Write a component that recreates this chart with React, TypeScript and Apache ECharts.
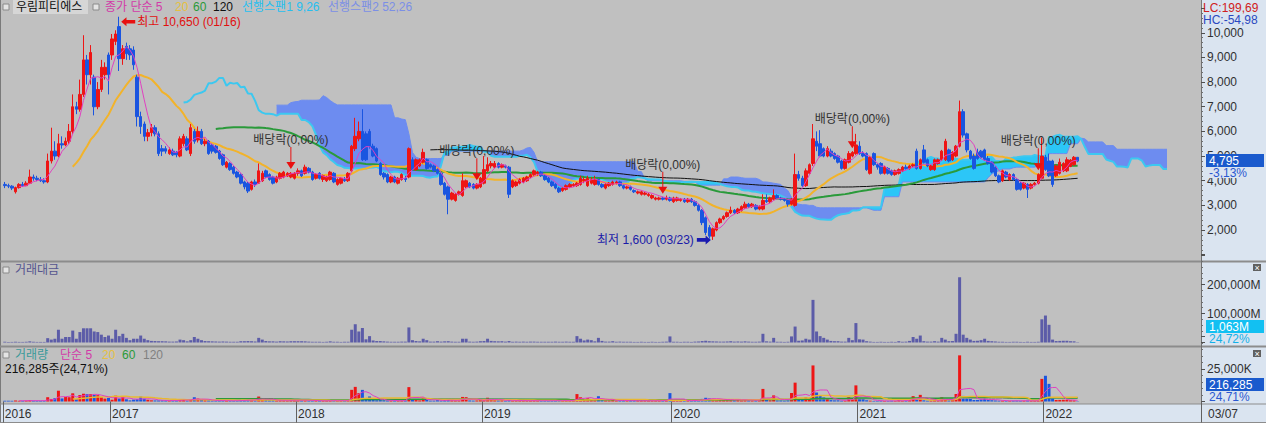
import React, { useEffect, useRef } from "react";
import * as echarts from "echarts";

const FONT = "'Liberation Sans', 'Noto Sans CJK KR', sans-serif";

// Weekly candles; the first week starts on Monday 2016-06-06.
const SLOT_COUNT = 335; // data weeks + leading spans + blank area
const LEAD_SHIFT = 25;

// [open, close, low, high] per week
const ohlc2016: number[][] = [
  [3850,3800,3700,3950],[3800,3780,3700,3880],[3780,3700,3620,3820],[3550,3720,3480,3760],
  [3720,3850,3680,3900],[3850,3800,3750,3950],[3800,3900,3780,3980],[3900,4150,3880,4450],
  [4150,4100,4000,4250],[4100,4050,3980,4200],[4050,4000,3950,4150],[4000,3950,3880,4100],
  [3950,4800,3900,5100],[4800,5200,4700,6150],[5200,5000,4850,5600],[5000,5500,4950,5900],
  [5500,5450,5300,5800],[5450,5600,5400,5750],[5600,6000,5500,6300],[6000,7000,5900,7500],
  [7000,6900,6700,7200],[6900,7500,6800,8100],[7500,8900,7400,9900],[8900,8300,7900,9100],
  [8300,9200,7900,9500],[8200,7000,6650,8300],[7000,7700,6900,8000],[7700,8600,7600,8900],
  [8300,8600,8100,8800],[9100,8300,7500,9200],
];
const ohlc2017: number[][] = [
  [9100,9750,8900,9950],[9650,9950,9500,10100],[10250,8950,8450,10650],[8950,9350,8700,9500],
  [9450,9150,8900,9600],[9350,9100,8900,9500],[9300,8700,8500,9450],[8200,6600,6200,8300],
  [6600,6200,5900,6800],[6300,5800,5600,6400],[5800,5950,5600,6100],[5950,6150,5800,6300],
  [6150,5900,5800,6250],[5900,5100,5000,6000],[5300,5200,5000,5450],[5300,5200,5100,5400],
  [5100,5250,5050,5350],[5200,5050,5000,5300],[5150,5050,4950,5200],[5000,5700,4950,5800],
  [5500,5800,5400,5900],[5700,5250,5200,5800],[5100,6150,5000,6300],[6000,5600,5500,6100],
  [5650,6000,5550,6200],[6000,5500,5450,6100],[5500,5600,5400,5700],[5600,5100,5050,5650],
  [5450,5200,5100,5500],[5400,5150,5100,5450],[5200,4900,4850,5250],[5050,4650,4600,5100],
  [4550,4750,4500,4800],[4700,4450,4400,4750],[4550,4300,4250,4600],[4350,4150,4100,4400],
  [4250,3900,3850,4300],[3950,3750,3650,4000],[3900,3580,3500,3950],[3650,3950,3600,4000],
  [3950,3850,3750,4050],[3900,4400,3880,4700],[4000,4300,3950,4400],[4400,4150,4100,4450],
  [4250,4050,4000,4300],[4150,3900,3850,4200],[3950,4150,3900,4200],[4100,4300,4050,4350],
  [4150,4350,4100,4400],[4200,4300,4150,4350],[4150,4300,4100,4350],[4100,4300,4050,4350],
];
const ohlc2018: number[][] = [
  [4300,4400,4200,4500],[4400,4200,4150,4450],[4300,4550,4250,4650],[4500,4350,4300,4550],
  [4350,4050,4000,4400],[4100,4250,4050,4300],[4300,4100,4050,4350],[4050,4200,3950,4250],
  [4000,4150,3950,4200],[4050,4350,4000,4400],[4300,3950,3900,4350],[3850,4050,3800,4100],
  [3900,4100,3850,4150],[4050,4000,3950,4150],[4000,4300,3950,4350],[4400,5400,4350,5450],
  [5300,5800,5200,6550],[5700,6000,5600,6400],[6000,4850,4800,6900],[5900,4850,4800,6000],
  [6000,5400,5300,6100],[5400,5000,4950,5500],[5300,4800,4750,5350],[4700,4250,4200,4750],
  [4300,4150,4050,4350],[4250,3950,3900,4300],[3950,4150,3900,4200],[4150,3950,3900,4200],
  [3900,4100,3850,4150],[4050,4250,4000,4300],[4100,4050,3950,4200],[4150,5300,4100,5350],
  [4850,4450,4400,4950],[4450,4850,4400,4900],[4600,4850,4550,4900],[4750,5150,4700,5300],
  [4850,4500,4450,4900],[4650,4550,4500,4700],[4600,4400,4350,4650],[4450,4300,4250,4500],
  [4300,3850,3800,4350],[3900,3450,3400,3950],[3750,3250,2640,3800],[3250,3500,3200,3550],
  [3200,3450,3150,3500],[3450,3550,3400,3600],[3400,4000,3350,4300],[3750,4000,3700,4050],
  [3900,3750,3700,3950],[3850,3700,3650,3900],[3700,3850,3650,3900],[3750,4100,3700,4150],
  [3900,4450,3850,5000],
];
const ohlc2019: number[][] = [
  [4400,4650,4350,4950],[4600,4700,4500,4800],[4550,4700,4500,4800],[4700,4550,4500,4750],
  [4550,4650,4500,4700],[4600,4550,4500,4650],[4550,3450,3300,4600],[3750,4000,3700,4050],
  [3800,3950,3750,4000],[3900,4050,3850,4100],[3950,4100,3900,4150],[4000,4150,3950,4200],
  [4150,4250,4100,4300],[4250,4400,4200,4450],[4300,4350,4200,4400],[4350,4200,4150,4400],
  [4200,4050,4000,4250],[4100,3950,3900,4150],[3950,3800,3750,4000],[3850,3700,3650,3900],
  [3700,3550,3500,3750],[3600,3700,3550,3750],[3650,3800,3600,3850],[3750,3850,3700,3900],
  [3800,3850,3750,3900],[3800,3900,3750,3950],[3850,4100,3800,4200],[4000,4050,3900,4150],
  [3800,4100,3750,4200],[3900,4050,3850,4150],[3850,4050,3800,4200],[4050,3850,3800,4100],
  [3850,3750,3700,3900],[3700,3850,3650,3900],[3800,3900,3750,3950],[3850,3950,3800,4000],
  [3900,3950,3850,4000],[3950,3800,3750,4000],[3800,3700,3650,3850],[3700,3750,3650,3800],
  [3750,3650,3600,3800],[3600,3550,3500,3650],[3500,3550,3450,3600],[3450,3550,3400,3600],
  [3450,3500,3400,3550],[3400,3450,3350,3500],[3300,3400,3250,3450],[3250,3300,3200,3350],
  [3250,3300,3200,3350],[3300,3250,3200,3350],[3250,3300,3200,3400],[3300,3200,3150,3350],
];
const ohlc2020: number[][] = [
  [3150,3300,3100,3350],[3200,3300,3150,3350],[3200,3250,3150,3300],[3250,3150,3100,3300],
  [3150,3250,3100,3300],[3250,3150,3100,3300],[3150,3000,2950,3200],[3000,2800,2750,3050],
  [2800,2300,2200,2850],[2500,1900,1800,2550],[2100,1750,1650,2200],[1750,2050,1600,2100],
  [2000,2300,1950,2350],[2300,2450,2250,2500],[2450,2550,2400,2600],[2550,2700,2500,2750],
  [2700,2800,2650,2950],[2800,2700,2650,2850],[2700,2850,2650,2900],[2800,2950,2750,3000],
  [2900,3050,2850,3150],[3050,2950,2900,3100],[2950,3050,2900,3100],[3000,2850,2800,3050],
  [2850,2950,2800,3000],[2850,3200,2800,3450],[3200,3150,3100,3450],[3150,3300,3100,3350],
  [3250,3400,3200,3650],[3400,3300,3250,3450],[3300,3250,3200,3350],[3250,3200,3150,3300],
  [3200,3050,2950,3250],[3050,3250,3000,3300],[3000,4250,2950,5100],[4250,4100,4000,4400],
  [4100,3800,3750,4200],[3800,4400,3750,4500],[4300,4650,4250,4700],[4700,5700,4600,6300],
  [5600,5400,5200,6000],[5500,5000,4950,6050],[5300,5000,4950,5350],[5000,5300,4950,5400],
  [5200,5000,4950,5300],[5100,4900,4850,5150],[5000,4750,4700,5050],[4800,4500,4450,4850],
  [4500,4850,4450,4900],[4750,5100,4700,5200],[5000,5150,4950,5200],[5100,5450,5050,5900],
];
const ohlc2021: number[][] = [
  [5400,5100,5050,5600],[5100,5000,4950,5200],[5100,4450,4400,5150],[4300,4950,4250,5000],
  [5100,4650,4600,5150],[4650,4550,4450,4700],[4700,4300,4250,4750],[4300,4550,4250,4600],
  [4500,4300,4250,4550],[4400,4250,4200,4450],[4250,4400,4200,4450],[4300,4450,4250,4500],
  [4400,4550,4350,4600],[4550,4500,4450,4650],[4500,4600,4450,4650],[4600,4650,4550,4700],
  [5200,4500,4450,5300],[4500,4850,4450,4900],[5250,4750,4700,5450],[4850,4600,4550,4900],
  [4450,4600,4400,4650],[4450,4850,4400,4900],[4700,4850,4650,4900],[4850,5200,4800,5250],
  [4850,5600,4800,5700],[5250,4800,4750,5300],[4850,5150,4800,5200],[5000,5400,4950,5450],
  [5400,6800,5350,7250],[6800,5850,5750,6900],[5900,5250,5150,5950],[5200,4900,4850,5250],
  [5000,4500,4450,5100],[5150,4900,4850,5300],[5200,4950,4900,5250],[5250,4850,4800,5300],
  [4900,4700,4650,5000],[4750,4350,4300,4800],[4550,4200,4150,4600],[4200,3950,3900,4250],
  [4000,4400,3950,4450],[4350,4150,4100,4400],[4050,4250,4000,4300],[4250,4050,4000,4300],
  [4050,3650,3600,4100],[3900,3650,3600,3950],[3700,3900,3650,3950],[3850,3650,3300,3900],
  [3700,3850,3650,3900],[3850,3900,3800,3950],[3900,4250,3850,4300],[4100,5000,4050,5750],
];
const ohlc2022: number[][] = [
  [4950,4450,4400,5050],[4800,4200,4150,5100],[4800,3850,3750,4850],[4200,4600,4150,4650],
  [4300,4750,4250,4900],[4400,4700,4350,4750],[4400,4850,4350,4950],[4580,4840,4550,4880],
  [4650,4950,4600,5000],[4950,4795,4750,4950],
];

// 거래대금 (백만원)
const amount2016 = [2500,2000,2000,3000,2000,2000,2500,4000,2500,2000,2000,2000,15000,10000,13000,44000,13000,19000,19000,41000,13000,36000,49000,49000,49000,38000,36000,27000,19000,24000];
const amount2017 = [13000,44000,22000,30000,16000,8000,13000,13000,24000,13000,8000,5500,5000,4500,4500,4000,3000,3000,3500,10000,8000,4000,8000,19000,13000,8000,5000,4500,4000,3500,3000,3500,3000,2500,2500,2500,4500,4500,5000,4500,3500,16000,10000,5000,4000,4000,3000,4500,4000,3500,4500,4500];
const amount2018 = [4500,4500,4000,3000,2500,2500,2500,2000,2500,4000,2500,2500,2000,2500,2500,44000,63000,38000,50000,11000,22000,7000,5000,5000,4000,3000,2500,2500,2500,3000,3000,52000,8000,5000,4000,13000,8000,3000,3000,4500,3000,4000,4500,3000,2500,2500,13000,13000,3000,2500,3000,4500,5000];
const amount2019 = [13000,5500,4500,4000,4500,3000,5000,2500,3000,2500,3000,2500,3000,3000,2500,2500,2500,2500,2500,3000,2500,2500,3000,2500,2500,22000,13000,7000,10000,8000,4000,16000,5500,3000,3000,4500,2500,3000,2500,2500,2500,2000,2000,2500,2000,2000,2500,2000,2000,2500,3000,21000];
const amount2020 = [2500,2500,2000,2500,2500,2000,3000,3500,5000,6000,4500,4000,3500,3000,3000,3500,4500,3000,3500,3000,4000,3000,2500,2500,3000,30000,4000,3000,16000,2500,2500,2000,2500,21000,55000,6000,7000,13000,10000,147000,38000,22000,16000,10000,5500,4500,4500,3000,3000,16000,8000,67000];
const amount2021 = [11000,10000,4500,3000,2000,2000,2500,2000,2000,2500,2000,4500,2500,3000,5500,19000,13000,24000,4500,3000,3000,4500,3000,16000,10000,4500,5000,30000,225000,27000,16000,10000,5500,6000,8000,13000,5500,4500,3500,2500,2500,2000,2000,2500,2500,2000,2000,2500,2000,2000,2500,80000];
const amount2022 = [93000,61000,10000,5000,5500,6000,6000,4500,4000,1063];

// 거래량 (천주)
const volume2016 = [660,530,540,810,520,530,640,980,610,490,500,510,3300,1960,2550,8300,2360,3450,3280,6300,1880,5000,5980,5700,5630,5070,4860,3290,2240,2790];
const volume2017 = [1380,4490,2290,3300,1720,870,1440,1760,3750,2170,1360,920,830,820,870,770,580,590,690,1850,1400,730,1430,3280,2240,1400,890,850,750,660,600,730,640,540,560,600,1100,1180,1350,1180,900,3810,2380,1160,980,1000,750,1070,930,820,1070,1070];
const volume2018 = [1030,1050,910,680,600,600,600,490,600,950,610,630,500,630,610,8980,11250,6440,8930,2040,3860,1350,1000,1110,950,730,630,630,630,730,730,11060,1740,1090,850,2650,1700,650,650,1020,730,1080,1290,880,760,710,3510,3330,790,660,790,1150,1190];
const volume2019 = [2890,1180,980,870,980,650,1250,640,770,630,750,610,710,700,580,580,610,630,640,790,690,680,810,660,660,5710,3250,1750,2500,2000,1000,4050,1450,790,780,1150,640,770,670,680,680,560,570,710,580,590,750,610,610,760,910,6460];
const volume2020 = [780,780,620,780,780,620,980,1210,2000,2860,2370,2110,1630,1250,1200,1350,1640,1090,1250,1030,1330,1000,830,860,1030,9680,1270,920,4710,750,770,630,810,6560,14500,1430,1790,3170,2220,27740,6910,4230,3140,1940,1080,900,920,650,640,3270,1570,12410];
const volume2021 = [2120,1980,960,650,420,430,560,450,450,580,470,1020,560,670,1210,4130,2710,5110,900,640,670,970,630,3200,1920,900,1000,5770,35500,4290,2860,2000,1160,1200,1580,2570,1150,990,800,610,600,470,480,600,650,530,530,670,530,510,610,17390];
const volume2022 = [19790,13560,2330,1140,1220,1320,1300,960,830,216.285];

const exDividendWeeks = ["2017/12/18", "2018/12/17", "2019/12/16", "2020/12/21", "2021/12/20"];
const exDividendText = "배당락(0,00%)";

const pad = (n: number) => (n < 10 ? "0" + n : "" + n);
const fmt = (n: number) => String(Math.round(n)).replace(/\B(?=(\d{3})+(?!\d))/g, ",");

function buildWeeks() {
  const base = Date.UTC(2016, 5, 6);
  const day = 86400000;
  const dates: string[] = [];
  const years: number[] = [];
  for (let i = 0; i < SLOT_COUNT; i++) {
    const d = new Date(base + i * 7 * day);
    dates.push(`${d.getUTCFullYear()}/${pad(d.getUTCMonth() + 1)}/${pad(d.getUTCDate())}`);
    years.push(new Date(base + (i * 7 + 1) * day).getUTCFullYear());
  }
  return { dates, years };
}

function movingAverage(values: number[], n: number) {
  const out: (number | null)[] = [];
  let sum = 0;
  for (let i = 0; i < values.length; i++) {
    sum += values[i];
    if (i >= n) sum -= values[i - n];
    out.push(i >= n - 1 ? Math.round((sum / n) * 100) / 100 : null);
  }
  return out;
}

function buildOption() {
  const { dates, years } = buildWeeks();
  const ohlc = [...ohlc2016, ...ohlc2017, ...ohlc2018, ...ohlc2019, ...ohlc2020, ...ohlc2021, ...ohlc2022];
  const amounts = [...amount2016, ...amount2017, ...amount2018, ...amount2019, ...amount2020, ...amount2021, ...amount2022];
  const volumes = [...volume2016, ...volume2017, ...volume2018, ...volume2019, ...volume2020, ...volume2021, ...volume2022];
  const closes = ohlc.map((r) => r[1]);
  const lows = ohlc.map((r) => r[2]);
  const highs = ohlc.map((r) => r[3]);
  const n = ohlc.length;

  const mid = (end: number, len: number) => {
    let hi = -Infinity, lo = Infinity;
    for (let k = end - len + 1; k <= end; k++) {
      if (highs[k] > hi) hi = highs[k];
      if (lows[k] < lo) lo = lows[k];
    }
    return (hi + lo) / 2;
  };
  const span1: (number | null)[] = new Array(SLOT_COUNT).fill(null);
  const span2: (number | null)[] = new Array(SLOT_COUNT).fill(null);
  for (let i = 0; i < n; i++) {
    if (i >= 25) span1[i + LEAD_SHIFT] = (mid(i, 9) + mid(i, 26)) / 2;
    if (i >= 51) span2[i + LEAD_SHIFT] = mid(i, 52);
  }
  const cloudBase: (number | null)[] = [];
  const cloudBlue: (number | null)[] = [];
  const cloudCyan: (number | null)[] = [];
  for (let j = 0; j < SLOT_COUNT; j++) {
    const a = span1[j], b = span2[j];
    if (a == null || b == null) {
      cloudBase.push(null); cloudBlue.push(null); cloudCyan.push(null);
    } else {
      cloudBase.push(Math.min(a, b));
      cloudBlue.push(b > a ? b - a : 0);
      cloudCyan.push(a >= b ? a - b : 0);
    }
  }

  let hiIdx = 0, loIdx = 0;
  for (let i = 0; i < n; i++) {
    if (highs[i] > highs[hiIdx]) hiIdx = i;
    if (lows[i] < lows[loIdx]) loIdx = i;
  }

  const markData: any[] = [
    {
      coord: [dates[hiIdx], highs[hiIdx]],
      symbol: "path://M0,5 L6,0 L6,3 L16,3 L16,7 L6,7 L6,10 Z",
      symbolSize: [14, 9],
      symbolOffset: [9, 5],
      itemStyle: { color: "#e81010" },
      label: { show: true, position: "right", distance: 2, color: "#e01010", fontSize: 12, fontFamily: FONT,
        formatter: `최고 ${fmt(highs[hiIdx])} (${dates[hiIdx].slice(5)})` },
    },
    {
      coord: [dates[loIdx], lows[loIdx]],
      symbol: "path://M16,5 L10,0 L10,3 L0,3 L0,7 L10,7 L10,10 Z",
      symbolSize: [14, 9],
      symbolOffset: [-9, 0],
      itemStyle: { color: "#1a1ab0" },
      label: { show: true, position: "left", distance: 3, color: "#1a1aa8", fontSize: 12, fontFamily: FONT,
        formatter: `최저 ${fmt(lows[loIdx])} (${dates[loIdx].slice(5)})` },
    },
  ];
  exDividendWeeks.forEach((d) => {
    const i = dates.indexOf(d);
    if (i < 0 || i >= n) return;
    markData.push({
      coord: [d, highs[i]],
      symbol: "path://M4,0 L5,0 L5,15 L9,15 L4.5,22 L0,15 L4,15 Z",
      symbolSize: [9, 22],
      symbolOffset: [0, -14],
      itemStyle: { color: "#e81010" },
      label: { show: true, position: "top", distance: 1, color: "#303030", fontSize: 12, fontFamily: FONT, formatter: exDividendText },
    });
  });

  const lineSeries = (name: string, data: any[], color: string, width: number, z: number, xi = 0) => ({
    name, type: "line", data, xAxisIndex: xi, yAxisIndex: xi, symbol: "none", showSymbol: false, silent: true, z,
    lineStyle: { color, width }, connectNulls: false,
  });

  const stackSeries = (name: string, data: any[], color: string | null) => ({
    name, type: "line", data, stack: "cloud", xAxisIndex: 0, yAxisIndex: 0, symbol: "none", showSymbol: false,
    silent: true, z: 1, lineStyle: { width: 0, opacity: 0 },
    areaStyle: color ? { color, opacity: 1 } : undefined,
  });

  const axisLabelBase = { color: "#303030", fontSize: 12, fontFamily: FONT, margin: 6 };
  const yCommon = {
    type: "value", position: "right", splitLine: { show: false }, z: 10,
    axisLine: { show: true, lineStyle: { color: "#707070" } },
    axisTick: { show: true, length: 4, lineStyle: { color: "#505050" } },
    minorTick: { show: true, splitNumber: 5, length: 2, lineStyle: { color: "#707070" } },
  };

  const xCommon = (gi: number) => ({
    type: "category", data: dates, gridIndex: gi, boundaryGap: true, show: gi === 2, z: 10,
    axisLine: { show: false },
    axisTick: { show: gi === 2, interval: (i: number) => i === 0 || years[i] !== years[i - 1], length: 21, lineStyle: { color: "#606060" } },
    axisLabel: {
      show: gi === 2, interval: (i: number) => i === 0 || years[i] !== years[i - 1],
      formatter: (_v: string, i: number) => String(years[i]), align: "left", margin: 6,
      color: "#303030", fontSize: 12, fontFamily: FONT,
    },
    splitLine: { show: false },
  });

  const rect = (x: number, y: number, w: number, h: number, fill: string, z = -10, stroke?: string) => ({
    type: "rect", silent: true, z, shape: { x, y, width: w, height: h },
    style: stroke ? { fill, stroke, lineWidth: 1 } : { fill },
  });
  const line = (x1: number, y1: number, x2: number, y2: number, color: string, w: number, z = -5) => ({
    type: "line", silent: true, z, shape: { x1, y1, x2, y2 }, style: { stroke: color, lineWidth: w },
  });
  const text = (x: number, y: number, t: string, color: string, size = 12) => ({
    type: "text", silent: true, z: 50, x, y,
    style: { text: t, fill: color, fontSize: size, fontFamily: FONT, align: "left", verticalAlign: "middle", textAlign: "left", textVerticalAlign: "middle" },
  });

  const lastVol = volumes[n - 1];
  const graphic = [
    rect(0, 0, 1266, 423, "#c0c0c0", -20),
    rect(1201, 0, 65, 423, "#dae4f0", -10),
    rect(0, 404, 1201, 19, "#dae4f0", -10),
    line(0.5, 0, 0.5, 423, "#7a7a7a", 1),
    line(1201.5, 0, 1201.5, 423, "#7a7a7a", 1),
    line(0, 261.5, 1266, 261.5, "#8c8c8c", 2),
    line(0, 346.5, 1266, 346.5, "#8c8c8c", 2),
    line(0, 404, 1266, 404, "#8c8c8c", 1),
    line(0, 422.5, 1266, 422.5, "#8c8c8c", 1),
    // price panel legend
    rect(3, 4, 6, 6, "#e4e4e4", 40, "#8a8a8a"),
    rect(13, 0, 75, 14, "#d6d6d6", 30),
    text(16, 7, "우림피티에스", "#101010"),
    rect(93, 4, 6, 6, "#e4e4e4", 40, "#8a8a8a"),
    text(105, 7, "종가 단순 5", "#d23aa8"),
    text(175, 7, "20", "#e6c040"),
    text(193, 7, "60", "#2a9a3a"),
    text(213, 7, "120", "#101010"),
    text(242, 7, "선행스팬1 9,26", "#26bff0"),
    text(328, 7, "선행스팬2 52,26", "#7b8fe6"),
    // amount panel legend
    rect(3, 267, 6, 6, "#e4e4e4", 40, "#8a8a8a"),
    text(15, 270, "거래대금", "#55558f"),
    // volume panel legend
    rect(3, 352, 6, 6, "#e4e4e4", 40, "#8a8a8a"),
    text(15, 355, "거래량", "#3a9a9a"),
    text(60, 355, "단순 5", "#d23aa8"),
    text(102, 355, "20", "#e6c040"),
    text(122, 355, "60", "#2a9a3a"),
    text(143, 355, "120", "#808080"),
    text(5, 368.5, `${fmt(lastVol * 1000)}주(24,71%)`, "#101010"),
    // right side values
    text(1203, 8, "LC:199,69", "#d02020"),
    text(1203, 20, "HC:-54,98", "#2a48c0"),
    rect(1206, 154, 58, 13, "#1a5acd", 45),
    text(1209, 160.5, fmt(closes[n - 1]), "#ffffff"),
    rect(1206, 167, 58, 11, "#dae4f0", 44),
    text(1209, 172.5, "-3,13%", "#2a58d0"),
    rect(1206, 320, 58, 13, "#12c0f2", 45),
    text(1209, 326.5, `${fmt(amounts[n - 1])}M`, "#ffffff"),
    text(1209, 339, "24,72%", "#12b0e8"),
    rect(1206, 378, 58, 13, "#1a5acd", 45),
    text(1209, 384.5, fmt(lastVol * 1000), "#ffffff"),
    text(1209, 397, "24,71%", "#2a58d0"),
    text(1208, 414, dates[n - 1].slice(5), "#303030"),
    rect(1253, 264, 8, 7, "#606060", 45),
    text(1254.5, 267.5, "×", "#ffffff", 9),
    rect(1253, 350, 8, 7, "#606060", 45),
    text(1254.5, 353.5, "×", "#ffffff", 9),
  ];

  return {
    animation: false,
    backgroundColor: "#c0c0c0",
    graphic: { elements: graphic },
    grid: [
      { left: 3, right: 65, top: 8.1, height: 246.6 },
      { left: 3, right: 65, top: 255.5, height: 87 },
      { left: 3, right: 65, top: 336.5, height: 65 },
    ],
    xAxis: [xCommon(0), xCommon(1), xCommon(2)],
    yAxis: [
      { ...yCommon, gridIndex: 0, min: 1000, max: 11000, interval: 1000,
        axisLabel: { ...axisLabelBase, formatter: (v: number) => (v > 1000 && v < 11000 ? fmt(v) : "") } },
      { ...yCommon, gridIndex: 1, min: 0, max: 300000, interval: 100000,
        axisLabel: { ...axisLabelBase, formatter: (v: number) => (v > 0 && v < 300000 ? fmt(v) + "M" : "") } },
      { ...yCommon, gridIndex: 2, min: 0, max: 50000, interval: 25000,
        axisLabel: { ...axisLabelBase, formatter: (v: number) => (v > 0 && v < 50000 ? fmt(v) + "K" : "") } },
    ],
    series: [
      stackSeries("cloudBase", cloudBase, null),
      stackSeries("cloudBlue", cloudBlue, "#6d8cf0"),
      stackSeries("cloudCyan", cloudCyan, "#2cc6f7"),
      lineSeries("선행스팬2", span2, "#6d8cf0", 1, 2),
      lineSeries("선행스팬1", span1, "#3cc8f0", 2, 2),
      lineSeries("MA120", movingAverage(closes, 120), "#101010", 1, 3),
      lineSeries("MA60", movingAverage(closes, 60), "#2a9a3a", 2, 3),
      lineSeries("MA20", movingAverage(closes, 20), "#f2b32a", 2, 3),
      {
        name: "주가", type: "candlestick", data: ohlc, xAxisIndex: 0, yAxisIndex: 0, barWidth: 3, z: 4, silent: true,
        itemStyle: { color: "#ee1515", color0: "#1a55e0", borderColor: "#ee1515", borderColor0: "#1a55e0", borderWidth: 1 },
        markPoint: { silent: true, data: markData, z: 20 },
      },
      lineSeries("MA5", movingAverage(closes, 5), "#e040c0", 1, 5),
      {
        name: "거래대금", type: "bar", data: amounts, xAxisIndex: 1, yAxisIndex: 1, barWidth: 3, silent: true, z: 3,
        itemStyle: { color: "#5c5ca8" },
      },
      {
        name: "거래량", type: "bar", xAxisIndex: 2, yAxisIndex: 2, barWidth: 3, silent: true, z: 3,
        data: volumes.map((v, i) => ({ value: v, itemStyle: { color: ohlc[i][1] >= ohlc[i][0] ? "#ee1515" : "#1a55e0" } })),
      },
      lineSeries("VMA120", movingAverage(volumes, 120), "#909090", 1, 4, 2),
      lineSeries("VMA60", movingAverage(volumes, 60), "#2a9a3a", 1.5, 4, 2),
      lineSeries("VMA20", movingAverage(volumes, 20), "#e8b830", 1.5, 4, 2),
      lineSeries("VMA5", movingAverage(volumes, 5), "#e040c0", 1, 5, 2),
    ],
  };
}

export default function App() {
  const ref = useRef<HTMLDivElement>(null);
  useEffect(() => {
    if (!ref.current) return;
    const chart = echarts.init(ref.current, null, { renderer: "svg" });
    chart.setOption(buildOption() as any);
    return () => chart.dispose();
  }, []);
  return <div ref={ref} style={{ position: "absolute", left: 0, top: 0, width: 1266, height: 423 }} />;
}
